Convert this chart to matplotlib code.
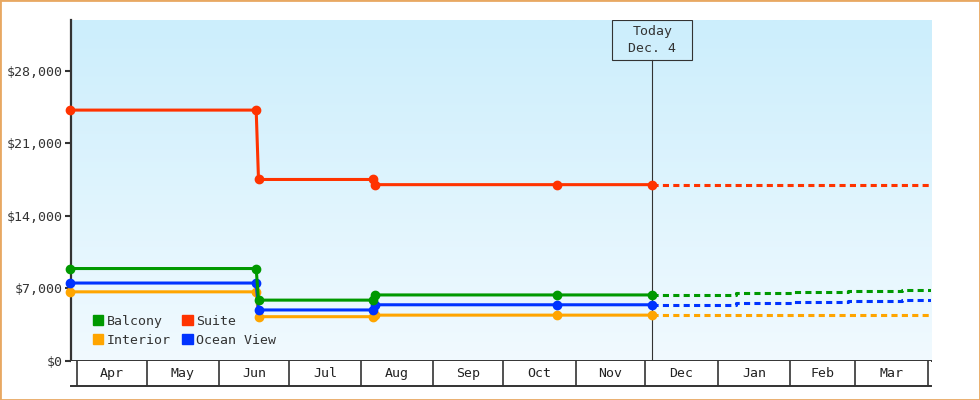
import matplotlib
matplotlib.use('Agg')
import matplotlib.pyplot as plt
import matplotlib.dates as mdates
from matplotlib.patches import Patch, Rectangle
import numpy as np
from datetime import datetime

plt.rcParams['font.family'] = ['DejaVu Sans Mono', 'DejaVu Sans']
plt.rcParams['font.size'] = 9.5

# price history (points drawn with markers)
hist_dates = ['2014-03-29', '2014-06-17', '2014-06-18', '2014-08-06',
              '2014-08-07', '2014-10-24', '2014-12-04']
suite = [24200, 24200, 17500, 17500, 17000, 17000, 17000]
balcony = [8900, 8900, 5850, 5850, 6350, 6350, 6350]
ocean_view = [7500, 7500, 4900, 4900, 5400, 5400, 5400]
interior = [6650, 6650, 4250, 4250, 4400, 4400, 4400]

# forecast (dotted)
fc_dates = ['2014-12-04', '2015-01-09', '2015-02-02', '2015-02-26',
            '2015-03-21', '2015-04-03']
suite_fc = [17000, 17000, 17000, 17000, 17000, 17000]
balcony_fc = [6350, 6500, 6600, 6730, 6830, 6830]
ocean_view_fc = [5400, 5550, 5650, 5760, 5860, 5860]
interior_fc = [4400, 4400, 4400, 4400, 4400, 4400]

months = ['Apr', 'May', 'Jun', 'Jul', 'Aug', 'Sep', 'Oct', 'Nov',
          'Dec', 'Jan', 'Feb', 'Mar']
month_starts = ['2014-04-01', '2014-05-01', '2014-06-01', '2014-07-01',
                '2014-08-01', '2014-09-01', '2014-10-01', '2014-11-01',
                '2014-12-01', '2015-01-01', '2015-02-01', '2015-03-01',
                '2015-04-01']
yticks = [0, 7000, 14000, 21000, 28000]
today = '2014-12-04'

colors = {'Balcony': '#009900', 'Suite': '#FF3300',
          'Interior': '#FFA500', 'Ocean View': '#0033FF'}


def to_num(ds):
    return mdates.date2num([datetime.strptime(d, '%Y-%m-%d') for d in ds])


hx = to_num(hist_dates)
fx = to_num(fc_dates)
ms = to_num(month_starts)
tx = to_num([today])[0]

fig = plt.figure(figsize=(9.8, 4.0), dpi=100)
ax = fig.add_axes([71 / 980, 1 - 360.7 / 400, 860 / 980, 340.7 / 400])
strip = fig.add_axes([71 / 980, 1 - 385.7 / 400, 860 / 980, 25 / 400], sharex=ax)

# background gradient
grad = np.linspace(0, 1, 256).reshape(-1, 1)
top = np.array([204, 238, 252]) / 255
bot = np.array([241, 250, 255]) / 255
img = top[None, None, :] * (1 - grad[:, :, None]) + bot[None, None, :] * grad[:, :, None]
ax.imshow(img, extent=[0, 1, 0, 1], transform=ax.transAxes, aspect='auto', zorder=0)

lw = 2.2
series = [('Interior', interior, interior_fc),
          ('Ocean View', ocean_view, ocean_view_fc),
          ('Balcony', balcony, balcony_fc),
          ('Suite', suite, suite_fc)]
for name, h, f in series:
    c = colors[name]
    ax.plot(fx, f, color=c, lw=lw, drawstyle='steps-post',
            dashes=(2, 1.4), zorder=3)
    ax.plot(hx, h, color=c, lw=lw, marker='o', markersize=6,
            clip_on=False, zorder=4)

# today marker
ax.plot([tx, tx], [0, 1 - 40 / 340.7], color='#333333', lw=0.8,
        transform=ax.get_xaxis_transform(), zorder=2)
box_w = 80 / 2.3315
ax.add_patch(Rectangle((tx - box_w / 2, 1 - 40 / 340.7), box_w, 40 / 340.7,
                       transform=ax.get_xaxis_transform(), fill=False,
                       edgecolor='#333333', lw=0.8, zorder=5))
ax.text(tx, 1 - 20 / 340.7, 'Today\nDec. 4', transform=ax.get_xaxis_transform(),
        ha='center', va='center', color='#333333', linespacing=1.45, zorder=6)

ax.set_xlim(ms[0] - 2.44, ms[-1] + 1.5)
ax.set_ylim(0, 32900)
ax.set_yticks(yticks)
ax.set_yticklabels(['${:,}'.format(v) for v in yticks])
ax.tick_params(axis='y', direction='out', length=4, width=1.5,
               colors='#333333', pad=2)
ax.tick_params(axis='x', bottom=False, labelbottom=False)
for s in ['top', 'right']:
    ax.spines[s].set_visible(False)
ax.spines['left'].set_color('#333333')
ax.spines['left'].set_linewidth(1.6)
ax.spines['bottom'].set_color('#333333')
ax.spines['bottom'].set_linewidth(1.4)

# month strip
strip.set_ylim(0, 1)
for m in ms:
    strip.axvline(m, color='#333333', lw=1.2)
for i, name in enumerate(months):
    strip.text((ms[i] + ms[i + 1]) / 2, 0.5, name, ha='center', va='center',
               color='#222222')
strip.set_facecolor('white')
for s in ['top', 'right', 'left']:
    strip.spines[s].set_visible(False)
strip.spines['bottom'].set_color('#333333')
strip.spines['bottom'].set_linewidth(1.4)
strip.tick_params(left=False, labelleft=False, bottom=False, labelbottom=False)

handles = [Patch(color=colors[n]) for n in ['Balcony', 'Interior', 'Suite', 'Ocean View']]
ax.legend(handles, ['Balcony', 'Interior', 'Suite', 'Ocean View'], ncol=2,
          loc='lower left', bbox_to_anchor=(0.0115, 0.006), frameon=False,
          handlelength=0.8, handleheight=0.8, handletextpad=0.25,
          columnspacing=0.9, labelspacing=0.45, labelcolor='#333333')

fig.patches.append(Rectangle((0, 0), 1, 1, transform=fig.transFigure,
                             fill=False, edgecolor='#E8A862', lw=2))

fig.savefig('out.png', dpi=100)
